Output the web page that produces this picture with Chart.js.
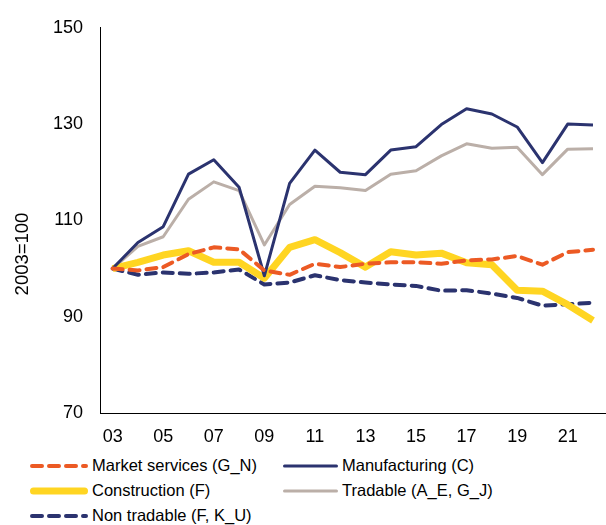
<!DOCTYPE html>
<html>
<head>
<meta charset="utf-8">
<script src="https://cdn.jsdelivr.net/npm/chart.js@4"></script>
<style>
  body { margin: 0; background: #fff; font-family: "Liberation Sans", Arial, sans-serif; }
  #wrap { position: relative; width: 606px; height: 525px; }
  #myChart { position: absolute; left: 0; top: 0; }
  #legend { position: absolute; left: 30px; top: 453px; width: 576px; display: grid; grid-template-columns: 253px 323px; }
  .item { height: 25px; display: flex; align-items: center; font-size: 16.5px; color: #000; white-space: nowrap; }
  .item svg { margin-right: 4px; }
</style>
</head>
<body>
<div id="wrap">
  <canvas id="myChart" width="606" height="450"></canvas>
  <div id="legend"></div>
</div>
<script>
const ctx = document.querySelector('#myChart');

const years = ['03', '04', '05', '06', '07', '08', '09', '10', '11', '12',
    '13', '14', '15', '16', '17', '18', '19', '20', '21', '22'];

const marketServices = [100, 99.6, 100.3, 103.0, 104.4, 104.0, 99.6, 98.7, 101.0, 100.3,
    101.0, 101.3, 101.3, 101.0, 101.7, 101.9, 102.6, 100.8, 103.4, 103.9];
const manufacturing = [100, 105.4, 108.7, 119.6, 122.6, 116.9, 98.5, 117.7, 124.6, 120.0,
    119.5, 124.6, 125.3, 129.9, 133.2, 132.1, 129.4, 122.0, 130.0, 129.8];
const construction = [100, 101.3, 102.8, 103.7, 101.3, 101.3, 98.0, 104.4, 106.0, 103.3,
    100.3, 103.5, 102.8, 103.2, 101.2, 100.8, 95.5, 95.3, 92.5, 89.2];
const tradable = [100, 104.6, 106.6, 114.4, 118.0, 116.2, 104.9, 113.3, 117.1, 116.8,
    116.2, 119.6, 120.3, 123.4, 125.9, 125.0, 125.2, 119.5, 124.8, 124.9];
const nonTradable = [100, 98.7, 99.2, 98.9, 99.2, 99.8, 96.7, 97.1, 98.6, 97.6,
    97.1, 96.7, 96.4, 95.4, 95.5, 94.8, 93.9, 92.3, 92.6, 92.9];

const yTicks = [70, 90, 110, 130, 150];

const font = { family: '"Liberation Sans", Arial, sans-serif', size: 18 };

// y title sits a bit lower than the plot middle in the original
const yTitle = {
    id: 'yTitle',
    afterDraw(chart) {
        const c = chart.ctx;
        c.save();
        c.translate(23, 254);
        c.rotate(-Math.PI / 2);
        c.font = '18.5px "Liberation Sans", Arial, sans-serif';
        c.fillStyle = '#000';
        c.textAlign = 'center';
        c.textBaseline = 'middle';
        c.fillText('2003=100', 0, 0);
        c.restore();
    }
};

const datasets = [
    { label: 'Market services (G_N)', data: marketServices, borderColor: '#EC5A24', borderWidth: 4, borderDash: [10, 7], borderCapStyle: 'round' },
    { label: 'Manufacturing (C)', data: manufacturing, borderColor: '#2B336F', borderWidth: 3 },
    { label: 'Construction (F)', data: construction, borderColor: '#FFD522', borderWidth: 7 },
    { label: 'Tradable (A_E, G_J)', data: tradable, borderColor: '#BBAFA8', borderWidth: 3 },
    { label: 'Non tradable (F, K_U)', data: nonTradable, borderColor: '#2B336F', borderWidth: 4, borderDash: [10, 7], borderCapStyle: 'round' }
];

datasets.forEach(d => {
    d.fill = false;
    d.tension = 0;
    d.pointRadius = 0;
    d.borderJoinStyle = 'round';
});

new Chart(ctx, {
    type: 'line',
    data: {
        labels: years,
        datasets: datasets
    },
    options: {
        responsive: false,
        animation: false,
        layout: { padding: { top: 23, right: 0, bottom: 0, left: 0 } },
        plugins: {
            legend: { display: false },
            tooltip: { enabled: false }
        },
        scales: {
            x: {
                offset: true,
                grid: { display: false, drawTicks: false },
                border: { display: true, color: '#000', width: 1 },
                ticks: {
                    color: '#000',
                    font: font,
                    padding: 13,
                    autoSkip: false,
                    maxRotation: 0,
                    callback: (v, i) => (i % 2 === 0 ? years[i] : '')
                },
                afterFit: s => { s.height = 37; }
            },
            y: {
                min: 70,
                max: 150,
                afterBuildTicks: s => { s.ticks = yTicks.map(v => ({ value: v })); },
                grid: { display: false, drawTicks: false },
                border: { display: true, color: '#000', width: 1 },
                ticks: { color: '#000', font: font, padding: 17 },
                afterFit: s => { s.width = 100; }
            }
        }
    },
    plugins: [yTitle]
});

// legend below the chart, two columns like the original
const legend = document.querySelector('#legend');
datasets.forEach(d => {
    const w = d.label.startsWith('Tradable') || d.label.startsWith('Manufacturing') ? 55 : 58;
    const dash = d.borderDash ? d.borderDash.join(' ') : 'none';
    const item = document.createElement('div');
    item.className = 'item';
    item.innerHTML =
        '<svg width="' + w + '" height="10"><line x1="' + (d.borderWidth / 2) + '" y1="5" x2="' + (w - d.borderWidth / 2) +
        '" y2="5" stroke="' + d.borderColor + '" stroke-width="' + d.borderWidth +
        '" stroke-linecap="round" stroke-dasharray="' + dash + '"/></svg><span>' + d.label + '</span>';
    legend.appendChild(item);
});
</script>
</body>
</html>
